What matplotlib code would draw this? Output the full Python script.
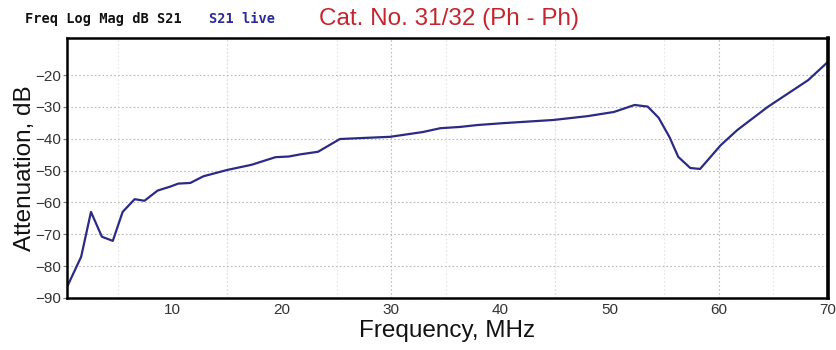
import numpy as np
import matplotlib
matplotlib.use("Agg")
import matplotlib.pyplot as plt
from matplotlib.ticker import MultipleLocator

# S21 trace
freq_mhz = [0.4, 1.6, 2.5, 3.5, 4.5, 5.4, 6.5, 7.4, 8.6, 9.8, 10.5, 11.6, 12.8,
            15.0, 17.2, 19.4, 20.6, 21.7, 23.3, 25.3, 27.2, 29.9, 31.5, 32.9,
            34.5, 36.3, 37.9, 40.3, 44.9, 48.0, 50.4, 52.3, 53.5, 54.5, 55.5,
            56.3, 57.4, 58.3, 60.2, 61.7, 64.5, 68.2, 70.0]
atten_db = [-85.9, -77.1, -63.0, -70.8, -72.1, -63.0, -59.0, -59.5, -56.3, -55.0,
            -54.1, -53.9, -51.8, -49.8, -48.2, -45.8, -45.6, -44.9, -44.1, -40.1,
            -39.8, -39.4, -38.6, -37.9, -36.7, -36.3, -35.7, -35.1, -34.1, -32.9,
            -31.6, -29.4, -29.9, -33.4, -39.5, -45.7, -49.2, -49.5, -42.0, -37.3,
            -30.0, -21.6, -15.9]

x_ticks = [10, 20, 30, 40, 50, 60, 70]
y_ticks = [-90, -80, -70, -60, -50, -40, -30, -20]

plt.rcParams['font.family'] = ['Liberation Sans', 'DejaVu Sans']

fig = plt.figure(figsize=(8.37, 3.5), dpi=100)
ax = fig.add_axes([0.080, 0.149, 0.909, 0.742])

ax.plot(freq_mhz, atten_db, color="#2b2b86", lw=1.6, solid_joinstyle="round")

ax.set_xlim(0.3, 70)
ax.set_ylim(-90, -8.4)
ax.set_xticks(x_ticks)
ax.set_yticks(y_ticks)
ax.xaxis.set_minor_locator(MultipleLocator(5))

ax.grid(which="major", axis="y", color="#b8b8b8", ls=(0, (1.5, 2)), lw=0.8)
ax.grid(which="minor", axis="x", color="#e6e6e6", ls=(0, (1.5, 2)), lw=0.8)
for xv in [15, 30, 45, 60]:
    ax.axvline(xv, color="#bdbdbd", ls=(0, (1.5, 2)), lw=0.8, zorder=0.5)

ax.tick_params(axis="both", which="major", labelsize=11, labelcolor="#333333",
               length=3, width=0.8, color="#777777", pad=1)
ax.tick_params(axis="x", which="minor", length=0)
ax.tick_params(axis="x", which="major", length=0, pad=4)
for side in ["left", "bottom", "top"]:
    ax.spines[side].set_linewidth(1.8)
ax.spines["right"].set_linewidth(2.6)

ax.set_xlabel("Frequency, MHz", fontsize=17.5, color="#111111", labelpad=2)
ax.set_ylabel("Attenuation, dB", fontsize=17.5, color="#111111", labelpad=0)

fig.text(0.030, 0.945, "Freq Log Mag dB S21", family="DejaVu Sans Mono",
         fontsize=9.8, fontweight="bold", color="#111111", va="center")
fig.text(0.250, 0.945, "S21 live", family="DejaVu Sans Mono",
         fontsize=9.8, fontweight="bold", color="#2a2a9a", va="center")
fig.text(0.536, 0.945, "Cat. No. 31/32 (Ph - Ph)", fontsize=17.5,
         color="#c4262e", ha="center", va="center")

fig.savefig("out.png", dpi=100)
